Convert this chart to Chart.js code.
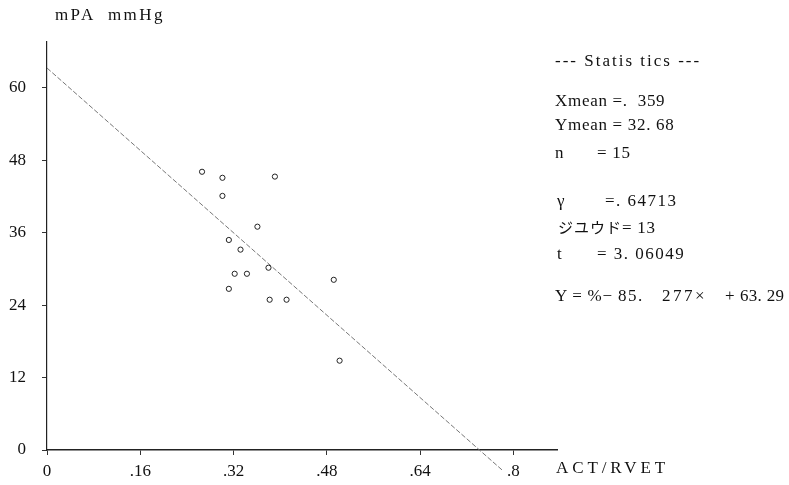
<!DOCTYPE html>
<html>
<head>
<meta charset="utf-8">
<script src="https://cdn.jsdelivr.net/npm/chart.js@4/dist/chart.umd.min.js"></script>
<style>
  body { margin: 0; background: #fff; }
  .wrap { position: relative; width: 789px; height: 485px; }
  canvas { position: absolute; left: 0; top: 0; }
  .txt { position: absolute; font-family: "Liberation Serif", "DejaVu Serif", serif; font-size: 17px; letter-spacing: 0.7px; color: #111; white-space: pre; }
  .jp { font-family: "Noto Sans CJK JP", sans-serif; font-size: 15px; letter-spacing: 1px; }
</style>
</head>
<body>
<div class="wrap">
  <canvas id="grafico" width="789" height="485"></canvas>
  <div class="txt" style="left:55px; top:5px; letter-spacing:2.4px;">mPA  mmHg</div>
  <div class="txt" style="left:556px; top:458px; letter-spacing:3.9px;">ACT/RVET</div>
  <div class="txt" style="left:555px; top:51px; letter-spacing:2px;">--- Statis tics ---</div>
  <div class="txt" style="left:555px; top:91px;">Xmean =.  359</div>
  <div class="txt" style="left:555px; top:115px;">Ymean = 32. 68</div>
  <div class="txt" style="left:555px; top:143px;">n</div>
  <div class="txt" style="left:597px; top:143px;">= 15</div>
  <div class="txt" style="left:557px; top:191px;">γ</div>
  <div class="txt" style="left:605px; top:191px; letter-spacing:1.5px;">=. 64713</div>
  <div class="txt" style="left:558px; top:216px;"><span class="jp">ジユウド</span>= 13</div>
  <div class="txt" style="left:557px; top:244px;">t</div>
  <div class="txt" style="left:597px; top:244px; letter-spacing:1.5px;">= 3. 06049</div>
  <div class="txt" style="left:555px; top:286px;">Y = %−</div>
  <div class="txt" style="left:618px; top:286px; letter-spacing:1.5px;">85.</div>
  <div class="txt" style="left:662px; top:286px; letter-spacing:2.5px;">277×</div>
  <div class="txt" style="left:725px; top:286px;">+</div>
  <div class="txt" style="left:740px; top:286px; letter-spacing:0.3px;">63. 29</div>
</div>
<script>
// valores
const xTicks = [0, 0.16, 0.32, 0.48, 0.64, 0.8];
const xLabels = ['0', '.16', '.32', '.48', '.64', '.8'];
const yTicks = [0, 12, 24, 36, 48, 60];
const actRvet = [0.266, 0.301, 0.391, 0.301, 0.361, 0.312, 0.332, 0.322, 0.343, 0.380, 0.312, 0.382, 0.411, 0.492, 0.502];
const mPA = [46.1, 45.1, 45.3, 42.1, 37.0, 34.8, 33.2, 29.2, 29.2, 30.2, 26.7, 24.9, 24.9, 28.2, 14.8];
// recta de regresion Y = -85.277x + 63.29 (extremos)
const rectaX = [0, 0.783];
const rectaY = [63.29, -3.5];

const puntos = actRvet.map((x, i) => ({ x: x, y: mPA[i] }));
const recta = rectaX.map((x, i) => ({ x: x, y: rectaY[i] }));

const fuente = { family: "Liberation Serif, DejaVu Serif, serif", size: 17 };

new Chart(document.getElementById('grafico').getContext('2d'), {
    type: 'scatter',
    data: {
        datasets: [{
            type: 'line',
            data: recta,
            borderColor: '#777',
            borderWidth: 1,
            borderDash: [5, 2],
            pointRadius: 0,
            clip: false,
            order: 2
        }, {
            data: puntos,
            pointRadius: 2.6,
            pointBorderWidth: 1,
            pointBorderColor: '#222',
            pointBackgroundColor: '#fff',
            order: 1
        }]
    },
    options: {
        responsive: false,
        animation: false,
        layout: { padding: { left: 0, top: 42, right: 232, bottom: 0 } },
        plugins: { legend: { display: false }, tooltip: { enabled: false } },
        scales: {
            x: {
                type: 'linear',
                min: 0,
                max: 0.875,
                afterBuildTicks: s => { s.ticks = xTicks.map(v => ({ value: v })); },
                afterFit: s => { s.height = 35; },
                border: { color: '#222', width: 1.5 },
                grid: { drawOnChartArea: false, tickLength: 5, color: '#333' },
                ticks: {
                    color: '#111', font: fuente, padding: 6, maxRotation: 0,
                    callback: (v) => xLabels[xTicks.indexOf(v)]
                }
            },
            y: {
                min: 0,
                max: 67.6,
                afterBuildTicks: s => { s.ticks = yTicks.map(v => ({ value: v })); },
                afterFit: s => { s.width = 47; },
                border: { color: '#222', width: 1.2 },
                grid: { drawOnChartArea: false, tickLength: 5, color: '#333' },
                ticks: { color: '#111', font: fuente, padding: 16 }
            }
        }
    }
});
</script>
</body>
</html>
